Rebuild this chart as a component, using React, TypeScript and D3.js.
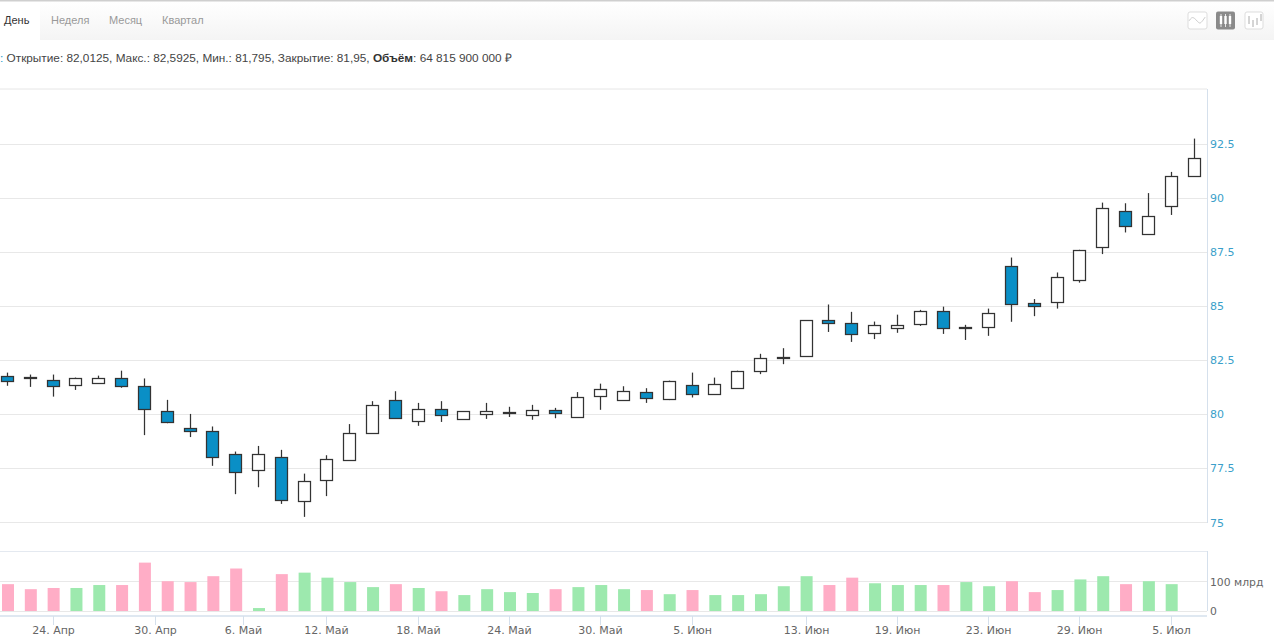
import React from "react";
import * as d3 from "d3";

const opens = [81.78,81.75,81.6,81.32,81.44,81.7,81.29,80.15,79.38,79.24,78.19,77.47,78.05,75.99,76.96,77.93,79.13,80.66,79.67,80.27,79.76,79.99,80.1,79.96,80.19,79.9,80.82,80.68,81.03,80.68,81.38,80.95,81.23,82.0,82.61,82.69,84.34,84.24,83.77,84.0,84.18,84.78,84.05,84.05,86.87,85.15,85.21,86.23,87.76,89.38,88.38,89.61,91.01];
const closes = [81.55,81.7,81.32,81.66,81.66,81.32,80.21,79.64,79.22,78.05,77.36,78.19,76.05,76.93,77.93,79.16,80.43,79.85,80.24,79.99,80.15,80.15,80.13,80.19,80.04,80.82,81.15,81.1,80.76,81.52,80.95,81.42,82.02,82.61,82.64,84.34,84.18,83.72,84.15,84.15,84.78,84.0,84.01,84.69,85.09,85.03,86.37,87.61,89.56,88.68,89.19,91.01,91.83];
const highs = [81.93,81.84,81.84,81.7,81.79,82.02,81.66,80.67,80.02,79.44,78.28,78.54,78.36,77.26,78.11,79.55,80.61,81.07,80.53,80.61,80.15,80.53,80.35,80.44,80.3,81.03,81.42,81.3,81.21,81.56,81.93,81.7,82.02,82.8,83.06,84.34,85.08,84.74,84.29,84.61,84.83,84.98,84.14,84.89,87.25,85.33,86.56,87.61,89.79,89.76,90.23,91.21,92.75];
const lows = [81.32,81.27,80.82,81.13,81.44,81.23,79.04,79.59,78.95,77.62,76.31,76.63,75.86,75.26,76.22,77.9,79.1,79.81,79.47,79.65,79.76,79.79,79.88,79.75,79.82,79.9,80.21,80.68,80.53,80.66,80.78,80.95,81.23,81.86,82.32,82.69,83.81,83.35,83.48,83.77,84.09,83.72,83.44,83.63,84.28,84.54,84.89,86.09,87.41,88.41,88.31,89.22,91.01];
const volumes = [91,74,78,78,88,88,164,101,98,118,144,10,125,130,113,98,81,91,78,67,54,74,64,61,74,81,88,74,71,57,71,54,54,57,84,118,88,113,94,88,88,88,98,84,101,64,71,107,118,91,101,91];
const volumeRising = [0,0,0,1,1,0,0,0,0,0,0,1,0,1,1,1,1,0,1,0,1,1,1,1,0,1,1,1,0,1,0,1,1,1,1,1,0,0,1,1,1,0,1,1,0,0,1,1,1,0,1,1];
const priceTicks = [75,77.5,80,82.5,85,87.5,90,92.5];
const volumeTicks = [0,100];
const volumeTickLabels = ["0","100 млрд"];
const dateLabels = ["24. Апр","30. Апр","6. Май","12. Май","18. Май","24. Май","30. Май","5. Июн","13. Июн","19. Июн","23. Июн","29. Июн","5. Июл"];
const dateTickIndex = [2,6.5,10.35,14,18,22,26,30,35,39,43,47,51];
const tabs = ["День","Неделя","Месяц","Квартал"];
const tabX = [4,51,109,162];

const FONT = "'Liberation Sans', Arial, sans-serif";
const AXF = "'DejaVu Sans', sans-serif";
const BLUE = "#0a8fc6";

export default function App() {
  const x = d3.scaleLinear().domain([0,52]).range([7.5,1194]);
  const y = d3.scaleLinear().domain([75,92.5]).range([522.5,144]);
  const v = d3.scaleLinear().domain([0,100]).range([611,581.5]);
  const crisp = (n:number)=>Math.round(n-0.5)+0.5;
  const trendLine = d3.line<number>().x((_,i)=>1189+i*2.7).y((d)=>d).curve(d3.curveBasis);
  const iconLine = trendLine([21,17,18,21,24,21,17]);
  return (
    <svg width={1280} height={638} style={{position:"absolute",left:0,top:0,background:"#fff"}}>
      <defs>
        <linearGradient id="bar" x1="0" y1="0" x2="0" y2="1">
          <stop offset="0" stopColor="#ffffff"/>
          <stop offset="1" stopColor="#f4f4f4"/>
        </linearGradient>
      </defs>
      <rect x={0} y={0} width={1274} height={1.5} fill="#cfcfcf"/>
      <rect x={0} y={2} width={1274} height={38} fill="url(#bar)"/>
      <rect x={0} y={2} width={40} height={38} fill="#fff"/>
      {tabs.map((t,i)=>(
        <text key={t} x={tabX[i]} y={24} fontFamily={FONT} fontSize={11} fill={i===0?"#333":"#999"}>{t}</text>
      ))}
      <g fill="none">
        <rect x={1188} y={12} width={19} height={17} rx={2} fill="#fff" stroke="#ddd"/>
        <path d={iconLine ?? ""} stroke="#ccc"/>
        <rect x={1216} y={11.5} width={19} height={18} rx={2} fill="#8a8a8a"/>
        {[1221,1225.5,1230].map((p)=>(
          <g key={p}><path d={`M${p} 14V27`} stroke="#fff" strokeWidth={0.8}/><rect x={p-1.2} y={16} width={2.4} height={8} fill="#fff"/></g>
        ))}
        <rect x={1245} y={12} width={18} height={17} rx={2} fill="#fff" stroke="#ddd"/>
        <path d="M1249 16V24M1253 20V27M1257 18V25M1261 14V21" stroke="#aaa"/>
      </g>
      <text x={0} y={62} fontFamily={FONT} fontSize={11.8} fill="#444">
        <tspan fill="#2a9ac8">: </tspan>Открытие: 82,0125, Макс.: 82,5925, Мин.: 81,795, Закрытие: 81,95, <tspan fontWeight="bold" fill="#333">Объём</tspan>: 64 815 900 000 ₽
      </text>

      <line x1={0} x2={1207} y1={89} y2={89} stroke="#e6e6e6"/>
      {priceTicks.map((t)=>(
        <g key={t}>
          <line x1={0} x2={1207} y1={crisp(y(t))} y2={crisp(y(t))} stroke="#e8e8e8"/>
          <text x={1210} y={y(t)+4} fontFamily={AXF} fontSize={11} fill="#3b9fca">{t}</text>
        </g>
      ))}
      <line x1={1207.5} x2={1207.5} y1={89} y2={523} stroke="#d5e0ec"/>

      {opens.map((o,i)=>{
        const c = closes[i];
        const cx = crisp(x(i));
        const top = Math.round(y(Math.max(o,c)))+0.5;
        const h = Math.max(1,Math.round(y(Math.min(o,c))-y(Math.max(o,c))));
        const down = c<o;
        return (
          <g key={i}>
            <line x1={cx} x2={cx} y1={y(highs[i])} y2={y(lows[i])} stroke="#333" strokeWidth={1.25}/>
            <rect x={cx-6} y={top} width={12} height={h} fill={down?BLUE:"#fff"} stroke="#333" strokeWidth={1.25}/>
          </g>
        );
      })}

      <line x1={0} x2={1207} y1={551.5} y2={551.5} stroke="#e4e9f0"/>
      {volumeTicks.map((t,i)=>(
        <g key={t}>
          <line x1={0} x2={1207} y1={crisp(v(t))} y2={crisp(v(t))} stroke="#e8e8e8"/>
          <text x={1210} y={v(t)+4} fontFamily={AXF} fontSize={10.8} fill="#666">{volumeTickLabels[i]}</text>
        </g>
      ))}
      {volumes.map((d,i)=>(
        <rect key={i} x={x(i)-5.5} y={v(d)} width={12} height={v(0)-v(d)} fill={volumeRising[i]?"#9de9ae":"#ffadc6"}/>
      ))}
      <line x1={1207.5} x2={1207.5} y1={551} y2={611} stroke="#d5e0ec"/>
      <line x1={0} x2={1207} y1={616} y2={616} stroke="#d5e0ec" strokeWidth={1.5}/>
      {dateLabels.map((l,i)=>{
        const px = crisp(x(dateTickIndex[i]));
        return (
          <g key={l}>
            <line x1={px} x2={px} y1={616} y2={625} stroke="#d5e0ec"/>
            <text x={px} y={634} textAnchor="middle" fontFamily={AXF} fontSize={11} fill="#666">{l}</text>
          </g>
        );
      })}
    </svg>
  );
}
